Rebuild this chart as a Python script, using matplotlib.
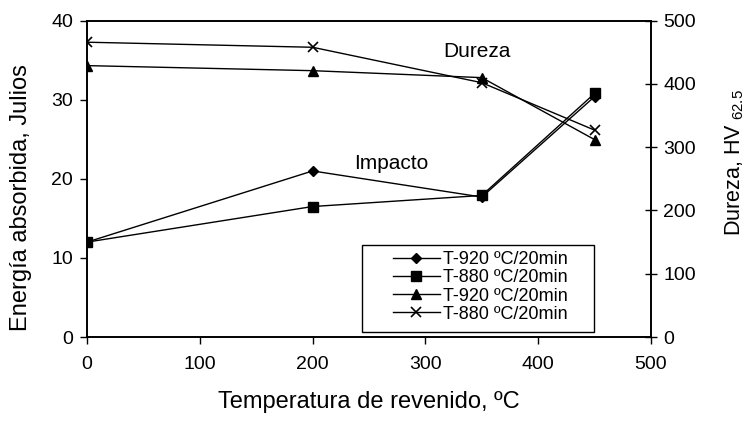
import numpy as np
import matplotlib
matplotlib.use("Agg")
import matplotlib.pyplot as plt
from matplotlib.patches import Rectangle

plt.rcParams['font.family'] = ['Liberation Sans', 'DejaVu Sans']
plt.rcParams['mathtext.default'] = 'regular'

# data
temp = [0, 200, 350, 450]
impacto_920 = [12.0, 21.0, 17.7, 30.4]
impacto_880 = [12.0, 16.5, 17.9, 30.8]
dureza_920 = [429, 421, 410, 312]
dureza_880 = [466, 458, 402, 327]
labels = ['T-920 ºC/20min', 'T-880 ºC/20min', 'T-920 ºC/20min', 'T-880 ºC/20min']

W, H = 748, 421
fig = plt.figure(figsize=(W / 100, H / 100), dpi=100)
ax = fig.add_axes([87 / W, 1 - 337 / H, 564 / W, 316.3 / H])
ax2 = ax.twinx()

lw = 1.0
h1, = ax.plot(temp, impacto_920, color='black', lw=lw, marker='D', markersize=5.5)
h2, = ax.plot(temp, impacto_880, color='black', lw=lw, marker='s', markersize=6.5)
h3, = ax2.plot(temp, dureza_920, color='black', lw=lw, marker='^', markersize=6.5)
h4, = ax2.plot(temp, dureza_880, color='black', lw=lw, marker='x', markersize=7, markeredgewidth=1.2)

ax.set_xlim(0, 500)
ax.set_ylim(0, 40)
ax2.set_ylim(0, 500)
ax.set_xticks(np.arange(0, 501, 100))
ax.set_yticks(np.arange(0, 41, 10))
ax2.set_yticks(np.arange(0, 501, 100))

for a in (ax, ax2):
    for sp in a.spines.values():
        sp.set_linewidth(1.2)
        sp.set_color('black')

ax.tick_params(axis='both', direction='out', length=5, width=1, labelsize=14, pad=5)
ax.tick_params(axis='x', pad=9)
ax2.tick_params(axis='y', direction='inout', length=8, width=1, labelsize=14, pad=5)

ax.set_xlabel('Temperatura de revenido, ºC', fontsize=17)
ax.xaxis.set_label_coords(0.5, -0.171)
ax.set_ylabel('Energía absorbida, Julios', fontsize=17)
ax.yaxis.set_label_coords(-0.097, 0.44)
ax2.set_ylabel('Dureza, HV$_{\\ 62.5}$', fontsize=15.5, rotation=90)
ax2.yaxis.set_label_coords(1.128, 0.55)

ax.text(346, 36.1, 'Dureza', fontsize=15, ha='center', va='center')
ax.text(269.5, 22.0, 'Impacto', fontsize=15, ha='center', va='center')

# legend frame (Excel style, wider than the entries)
fig.patches.append(Rectangle((362 / W, 1 - 332 / H), 232 / W, 87 / H,
                             transform=fig.transFigure, fill=True,
                             facecolor='white', edgecolor='black', lw=1.0, zorder=5))
leg = fig.legend([h1, h2, h3, h4], labels, loc='upper left',
                 bbox_to_anchor=(393 / W, 1 - 251 / H), bbox_transform=fig.transFigure,
                 fontsize=13, frameon=False,
                 handlelength=2.6, handletextpad=0.17, labelspacing=0.07,
                 borderpad=0, borderaxespad=0)
leg.set_zorder(6)

fig.savefig('out.png', dpi=100)
